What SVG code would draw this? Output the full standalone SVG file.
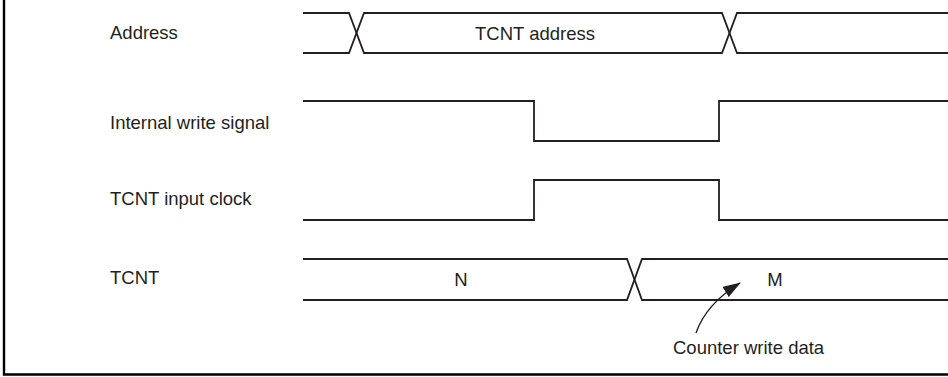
<svg xmlns="http://www.w3.org/2000/svg" width="948" height="377" viewBox="0 0 948 377">
<style>
.sig{fill:none;stroke:#231f20;stroke-width:1.8;stroke-linejoin:miter}
.lbl{font-family:"Liberation Sans",Arial,sans-serif;font-size:18.5px;fill:#231f20}
.mid{text-anchor:middle}
.frame{fill:none;stroke:#000;stroke-width:2.4}
</style>
<defs>
<marker id="ah" markerWidth="18" markerHeight="12" refX="17" refY="6" orient="auto" markerUnits="userSpaceOnUse">
<path d="M0,0 L18,6 L0,12 Z" fill="#231f20"/>
</marker>
</defs>
<path class="frame" d="M4,0 V374.5 H948"/>
<g id="address">
<text class="lbl" x="110" y="39">Address</text>
<path class="sig" d="M303,13 H349 L364,53 H722 L737,13 H948"/>
<path class="sig" d="M303,53 H349 L364,13 H722 L737,53 H948"/>
<text class="lbl mid" x="535" y="40">TCNT address</text>
</g>
<g id="internal-write">
<text class="lbl" x="110" y="129">Internal write signal</text>
<path class="sig" d="M303,101 H534 V141 H719 V101 H948"/>
</g>
<g id="input-clock">
<text class="lbl" x="110" y="205">TCNT input clock</text>
<path class="sig" d="M303,220 H534 V180 H719 V220 H948"/>
</g>
<g id="tcnt">
<text class="lbl" x="110" y="284">TCNT</text>
<path class="sig" d="M303,259 H627 L642,300 H948"/>
<path class="sig" d="M303,300 H627 L642,259 H948"/>
<text class="lbl mid" x="461" y="286">N</text>
<text class="lbl mid" x="775" y="286">M</text>
</g>
<g id="connectors">
<path d="M696,333 Q706,304 740,283" fill="none" stroke="#231f20" stroke-width="1.4" marker-end="url(#ah)"/>
</g>
<g id="annotation">
<text class="lbl" x="673" y="354">Counter write data</text>
</g>
</svg>
